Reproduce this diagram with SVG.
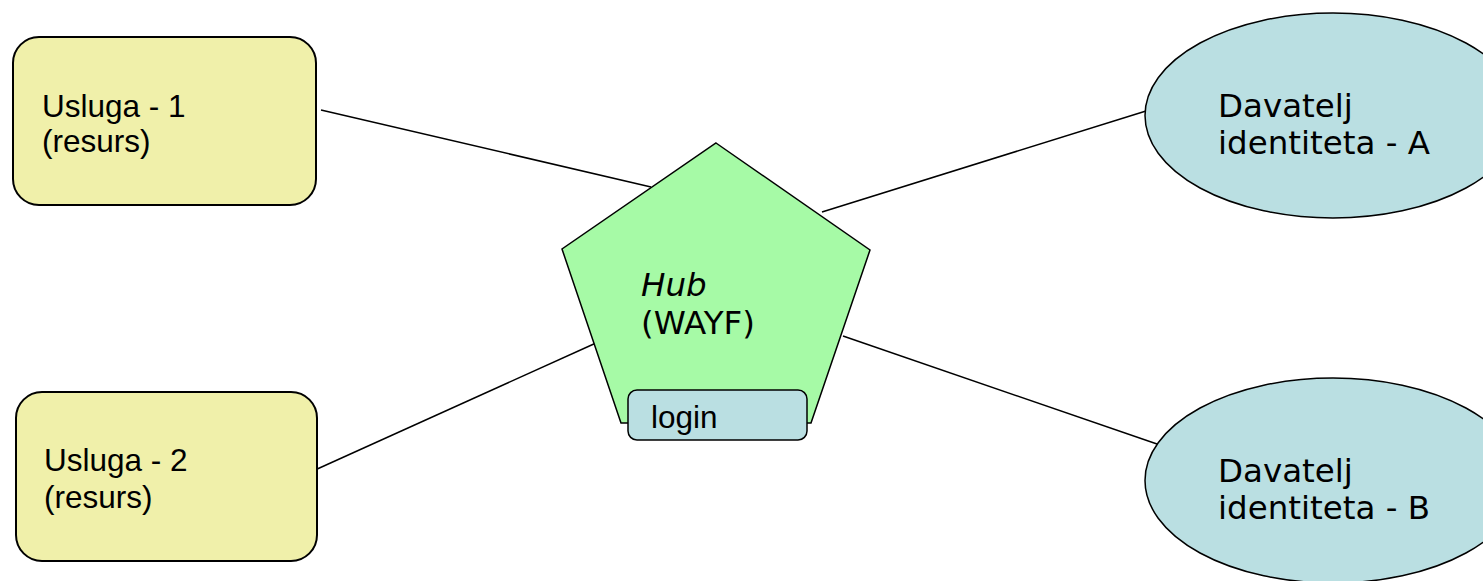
<svg xmlns="http://www.w3.org/2000/svg" width="1483" height="581" viewBox="0 0 1483 581">
<style>
.box{fill:#F0F0AA;stroke:#000;stroke-width:2}
.idp{fill:#BADFE2;stroke:#000;stroke-width:1.5}
.hub{fill:#A6FAA6;stroke:#000;stroke-width:1.5}
.login{fill:#BADFE2;stroke:#000;stroke-width:1.5}
.conn line{stroke:#000;stroke-width:1.5}
.t{font-family:"Liberation Sans",Arial,sans-serif;font-size:31.5px;fill:#000}
.v{font-family:"DejaVu Sans",Verdana,sans-serif;font-size:32.5px;fill:#000}
.h{font-family:"DejaVu Sans",Verdana,sans-serif;font-size:32.5px;fill:#000}
</style>
<rect width="1483" height="581" fill="#fff"/>
<g id="connectors" class="conn">
<line x1="321" y1="110" x2="651" y2="187"/>
<line x1="315" y1="470" x2="596" y2="343"/>
<line x1="822" y1="212" x2="1146" y2="111"/>
<line x1="843" y1="336" x2="1157" y2="444"/>
</g>
<g id="usluga1">
<rect class="box" x="13" y="37" width="303" height="168" rx="26"/>
<text class="t" x="42" y="117">Usluga - 1</text>
<text class="t" x="42" y="152">(resurs)</text>
</g>
<g id="usluga2">
<rect class="box" x="16" y="392" width="301" height="169" rx="26"/>
<text class="t" x="44" y="471">Usluga - 2</text>
<text class="t" x="44" y="508">(resurs)</text>
</g>
<g id="hub">
<polygon class="hub" points="716,143 870,250 811,423 621,423 562,249"/>
<text class="h" x="641" y="296" font-style="italic">Hub</text>
<text class="h" x="641" y="334">(WAYF)</text>
</g>
<g id="login">
<rect class="login" x="628" y="390" width="179" height="50" rx="9"/>
<text class="t" x="651" y="428">login</text>
</g>
<g id="idpA">
<ellipse class="idp" cx="1333" cy="115.5" rx="188" ry="102.5"/>
<text class="v" x="1218" y="117">Davatelj</text>
<text class="v" x="1218" y="154">identiteta - A</text>
</g>
<g id="idpB">
<ellipse class="idp" cx="1333" cy="480.5" rx="188" ry="102.5"/>
<text class="v" x="1218" y="482">Davatelj</text>
<text class="v" x="1218" y="519">identiteta - B</text>
</g>
</svg>
